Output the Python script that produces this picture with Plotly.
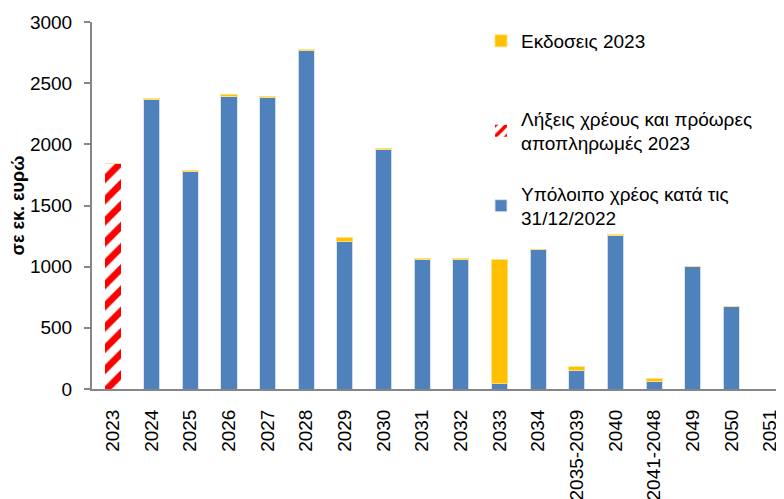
import plotly.graph_objects as go

categories = ["2023", "2024", "2025", "2026", "2027", "2028", "2029", "2030", "2031",
              "2032", "2033", "2034", "2035-2039", "2040", "2041-2048", "2049", "2050", "2051"]
remaining_debt = [0, 2365, 1775, 2395, 2380, 2765, 1205, 1960, 1055,
                  1055, 45, 1140, 155, 1258, 65, 1000, 673, 0]
maturities_2023 = [1840, 0, 0, 0, 0, 0, 0, 0, 0,
                   0, 0, 0, 0, 0, 0, 0, 0, 0]
issuance_2023 = [0, 10, 12, 14, 15, 8, 30, 10, 12,
                 12, 1010, 3, 25, 8, 17, 0, 0, 0]

name_remaining = "Υπόλοιπο χρέος κατά τις<br>31/12/2022"
name_maturities = "Λήξεις χρέους και πρόωρες<br>αποπληρωμές 2023"
name_issuance = "Εκδοσεις 2023"
y_title = "σε εκ. ευρώ"

FONT = "Liberation Sans, Arial, sans-serif"
BLUE = "#4F81BD"
YELLOW = "#FFC000"
EDGE = "rgba(215,228,243,0.9)"

fig = go.Figure()
fig.add_trace(go.Bar(
    x=categories, y=remaining_debt, name=name_remaining,
    marker=dict(color=BLUE, line=dict(color=EDGE, width=1)),
    legend="legend3",
))
fig.add_trace(go.Bar(
    x=categories, y=maturities_2023, name=name_maturities,
    marker=dict(color="white", line=dict(width=0),
                pattern=dict(shape="/", fgcolor="#FF0000", bgcolor="white",
                             size=15, solidity=0.45, fillmode="replace")),
    legend="legend2",
))
fig.add_trace(go.Bar(
    x=categories, y=issuance_2023, name=name_issuance,
    marker=dict(color=YELLOW, line=dict(color="rgba(255,224,130,0.9)", width=1)),
    legend="legend",
))

# the page body has an 8px margin, so the figure starts at (8, 8) in the window
OFF = 8
W, H = 784 - OFF, 499 - OFF
PLOT_L, PLOT_T, PLOT_B = 92 - OFF, 22 - OFF, 389 - OFF
PH = PLOT_B - PLOT_T
PW = W - PLOT_L


def py(ypx):
    return (PLOT_B - (ypx - OFF)) / PH


legend_common = dict(font=dict(family=FONT, size=19, color="#000"),
                     bgcolor="rgba(0,0,0,0)", xref="paper", yref="paper",
                     xanchor="left", yanchor="middle",
                     x=(481 - OFF - PLOT_L) / PW)

fig.update_layout(
    width=W, height=H,
    barmode="stack", bargap=0.585,
    plot_bgcolor="white", paper_bgcolor="white",
    margin=dict(l=PLOT_L, r=0, t=PLOT_T, b=H - PLOT_B, autoexpand=False),
    font=dict(family=FONT, size=19, color="#000"),
    showlegend=True,
    legend=dict(**legend_common, y=py(41)),
    legend2=dict(**legend_common, y=py(131)),
    legend3=dict(**legend_common, y=py(206)),
    xaxis=dict(
        type="category", range=[-0.544, 17.36], automargin=False,
        showline=True, linecolor="#868686", linewidth=2,
        ticks="", tickangle=-90, showgrid=False,
        tickfont=dict(family=FONT, size=19, color="#000"),
        ticklabelstandoff=11,
    ),
    yaxis=dict(
        range=[0, 3000], dtick=500, tick0=0, automargin=False,
        showline=True, linecolor="#868686", linewidth=2,
        ticks="outside", ticklen=6, tickcolor="#868686", tickwidth=2,
        showgrid=False, zeroline=False,
        tickfont=dict(family=FONT, size=19, color="#000"),
        ticklabelstandoff=8,
        title=dict(text="<b>" + y_title + "</b>",
                   font=dict(family=FONT, size=18, color="#000"), standoff=1),
    ),
)

fig.write_html("out.html")
